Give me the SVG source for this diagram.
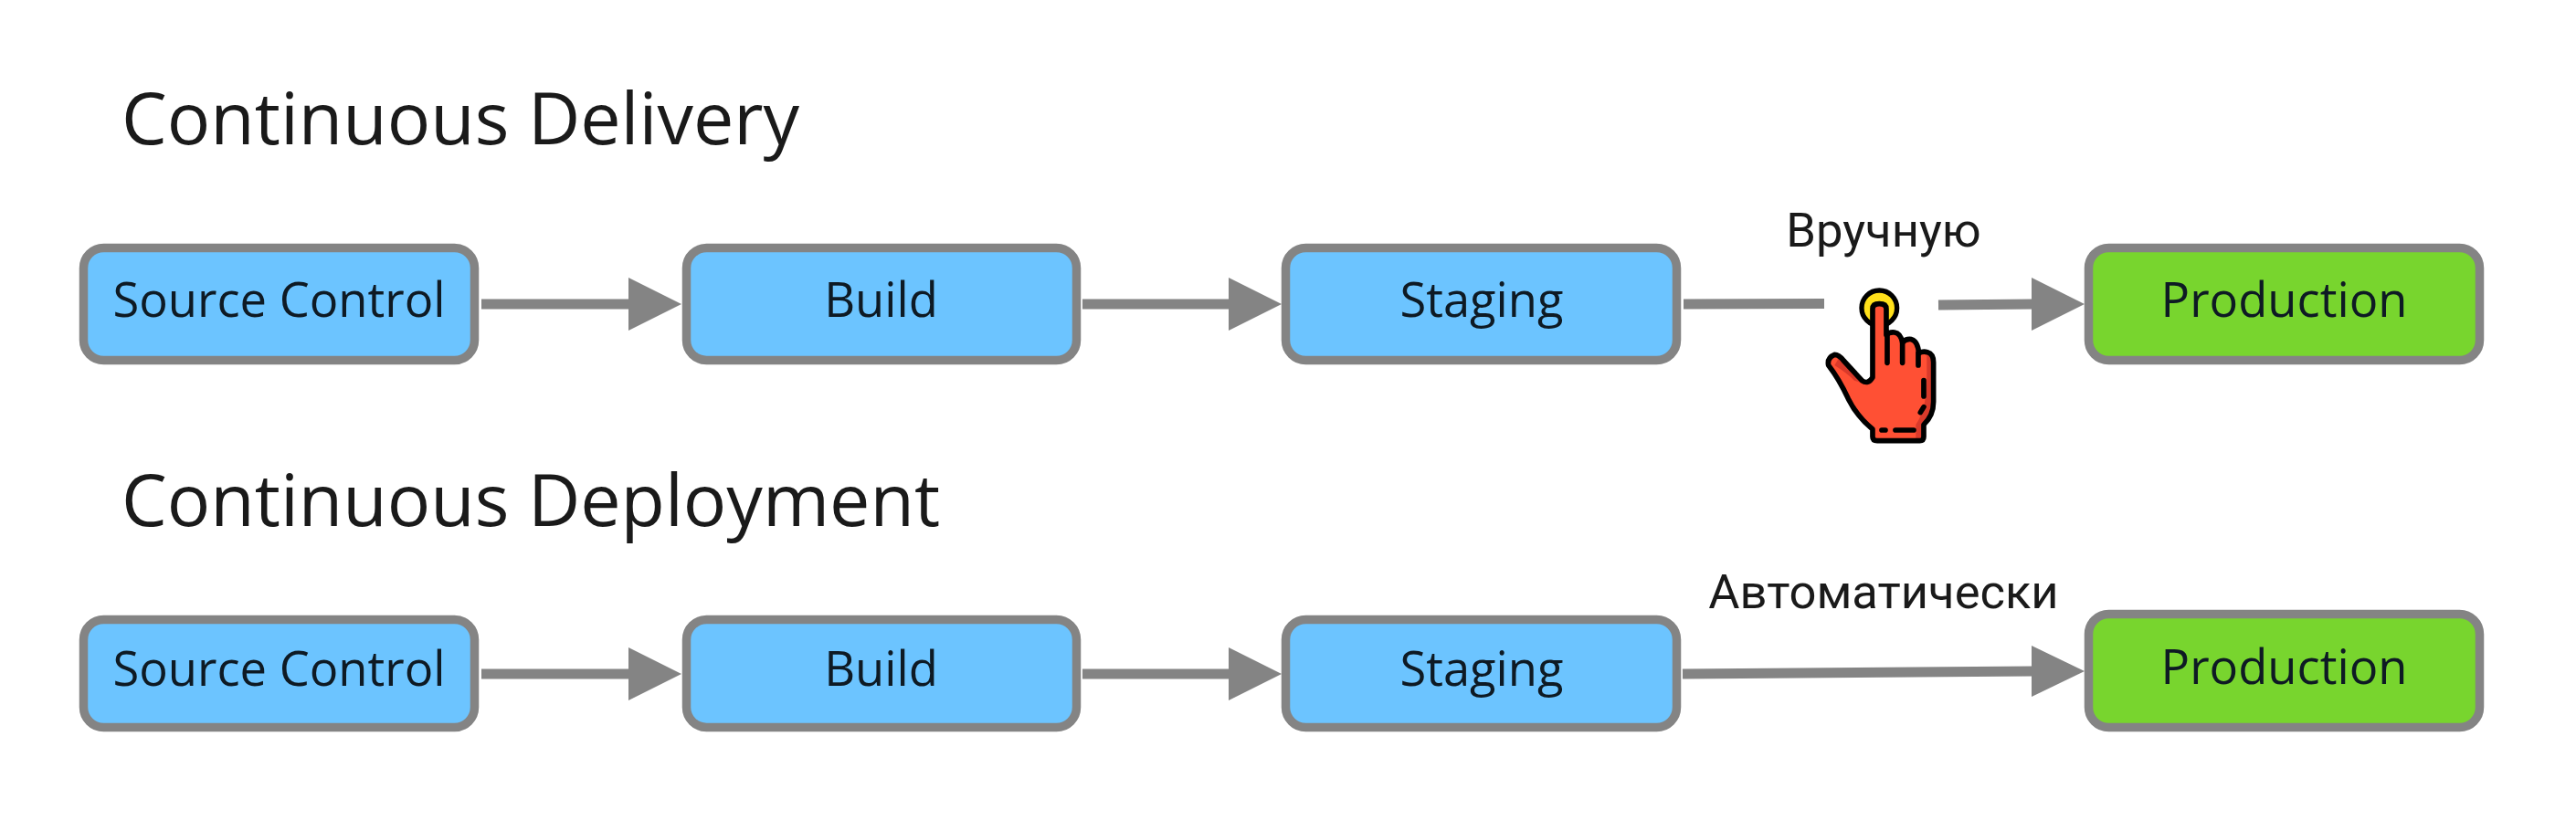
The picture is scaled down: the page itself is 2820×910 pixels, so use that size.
<svg xmlns="http://www.w3.org/2000/svg" width="2820" height="910" viewBox="0 0 2820 910">
<style>
.t{font-family:"Open Sans","Noto Sans",sans-serif;fill:#1a1a1a;font-size:79px}
.n{font-family:"Open Sans","Noto Sans",sans-serif;fill:#0e1a24;font-size:52.5px;text-anchor:middle}
.r{font-family:Roboto,"Liberation Sans",sans-serif;fill:#1a1a1a;font-size:52.5px;text-anchor:middle}
.b{fill:#6cc4ff;stroke:#848484;stroke-width:9.500}
.g{fill:#78d52e;stroke:#848484;stroke-width:9.500}
.c{fill:none;stroke:#848484;stroke-width:11}
.h{fill:#848484}
.k{fill:none;stroke:#000;stroke-width:17;stroke-linecap:round;stroke-linejoin:round}
</style>
<rect width="2820" height="910" fill="#fff"/>
<text class="t" x="133" y="158">Continuous Delivery</text>
<text class="t" x="133" y="576">Continuous Deployment</text>
<text class="r" x="2062" y="270">Вручную</text>
<text class="r" x="2062" y="666">Автоматически</text>
<g id="connectors">
<path class="c" d="M527 333H690"/><polygon class="h" points="688,304 746,333 688,362"/>
<path class="c" d="M1185 333H1347"/><polygon class="h" points="1345,304 1403,333 1345,362"/>
<path class="c" d="M1843 333L1997 332.500"/>
<path class="c" d="M2122 334L2226 333"/><polygon class="h" points="2224,304 2282,333 2224,362"/>
<path class="c" d="M527 738H690"/><polygon class="h" points="688,709 746,738 688,767"/>
<path class="c" d="M1185 738H1347"/><polygon class="h" points="1345,709 1403,738 1345,767"/>
<path class="c" d="M1842 738L2226 735"/><polygon class="h" points="2224,707 2282,735 2224,763"/>
</g>
<g id="n1"><rect class="b" x="91.500" y="271.500" width="428" height="123" rx="22"/><text class="n" x="305.500" y="347">Source Control</text></g>
<g id="n2"><rect class="b" x="751.500" y="271.500" width="427" height="123" rx="22"/><text class="n" x="964.500" y="347">Build</text></g>
<g id="n3"><rect class="b" x="1407.500" y="271.500" width="428" height="123" rx="22"/><text class="n" x="1622" y="347">Staging</text></g>
<g id="n4"><rect class="g" x="2286.500" y="271.500" width="428" height="123" rx="22"/><text class="n" x="2500.500" y="347">Production</text></g>
<g id="n5"><rect class="b" x="91.500" y="678.500" width="428" height="118" rx="22"/><text class="n" x="305.500" y="751">Source Control</text></g>
<g id="n6"><rect class="b" x="751.500" y="678.500" width="427" height="118" rx="22"/><text class="n" x="964.500" y="751">Build</text></g>
<g id="n7"><rect class="b" x="1407.500" y="678.500" width="428" height="118" rx="22"/><text class="n" x="1622" y="751">Staging</text></g>
<g id="n8"><rect class="g" x="2286.500" y="672.500" width="428" height="124" rx="22"/><text class="n" x="2500.500" y="749">Production</text></g>
<g id="hand" transform="translate(1800 200) scale(.3333)">
<circle cx="772" cy="412" r="58" fill="#ffe01a" stroke="#000" stroke-width="16"/>
<path d="M750 640V415Q750 398 772 398Q795 398 795 415V500Q805 490 822 492Q842 495 848 525Q860 512 878 515Q898 520 902 560Q915 553 930 557Q950 563 950 590V720Q950 765 918 795V835Q918 848 905 848H765Q750 848 750 835V810Q700 770 670 710Q640 645 605 600Q600 575 625 565Q640 565 655 585L715 650Q735 665 750 640Z" fill="#ff5034"/>
<path d="M928 560Q950 563 950 590V720Q950 765 918 795V848H892V795Q928 745 928 640ZM625 600Q665 625 690 650L725 662L690 625L640 575Z" fill="#d93a2b"/>
<path class="k" d="M750 640V415Q750 398 772 398Q795 398 795 415V500Q805 490 822 492Q842 495 848 525Q860 512 878 515Q898 520 902 560Q915 553 930 557Q950 563 950 590V720Q950 765 918 795V835Q918 848 905 848H765Q750 848 750 835V810Q700 770 670 710Q640 645 605 600Q600 575 625 565Q640 565 655 585L715 650Q735 665 750 640Z"/>
<path class="k" d="M798 500V592M848 525V592M900 560V600M918 650V702M918 737L907 755M825 813H885M780 813H792"/>
</g>
</svg>
